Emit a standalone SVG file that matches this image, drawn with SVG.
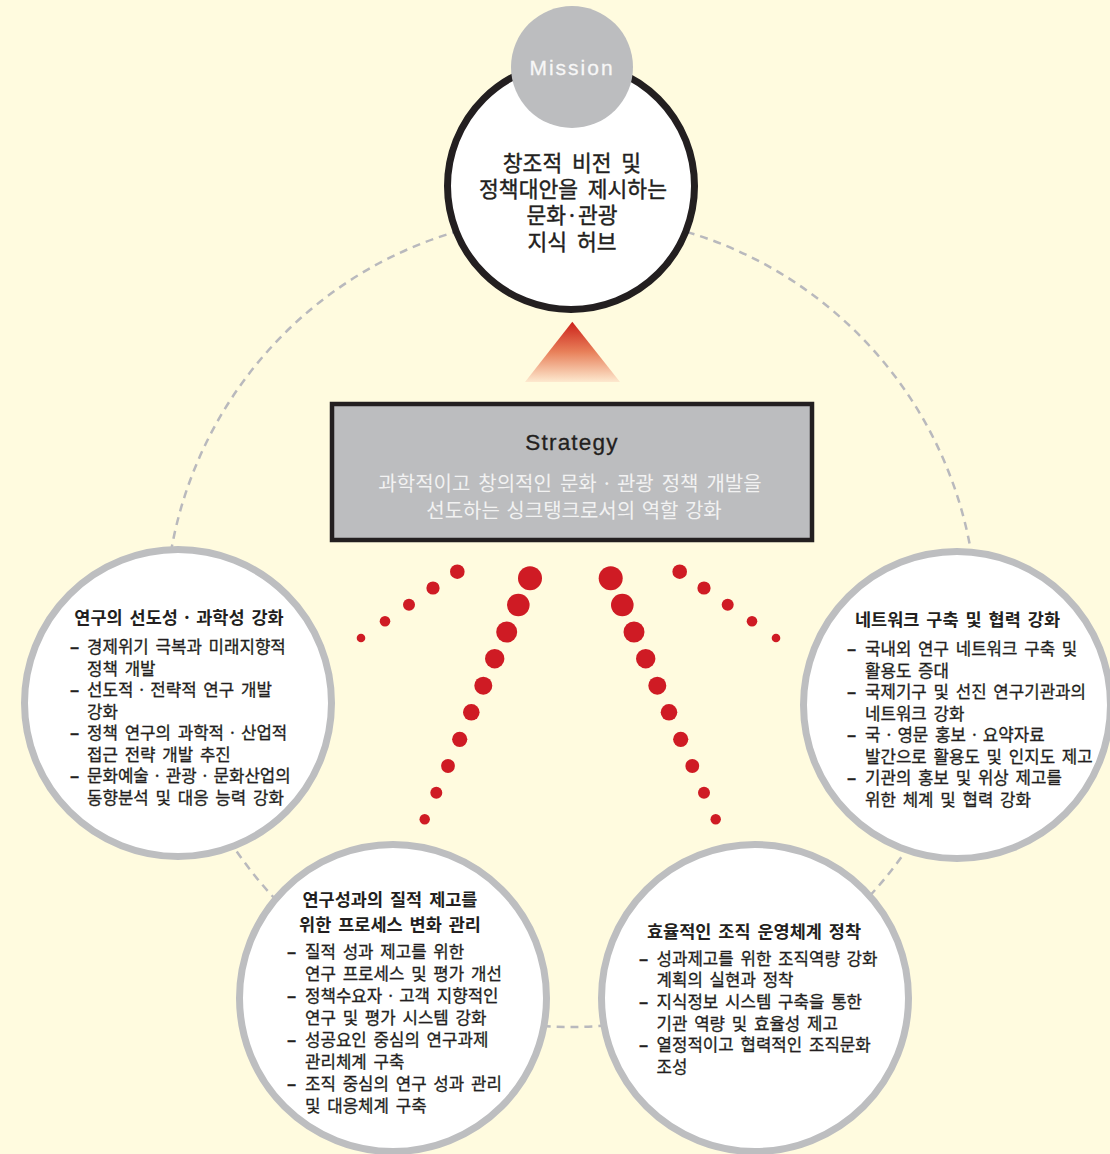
<svg xmlns="http://www.w3.org/2000/svg" width="1110" height="1154" viewBox="0 0 1110 1154">
<defs>
<linearGradient id="tri" x1="0" y1="0" x2="0" y2="1">
<stop offset="0" stop-color="#cc2119"/>
<stop offset="0.5" stop-color="#e8805a"/>
<stop offset="1" stop-color="#fde9cf"/>
</linearGradient>
<style>
.bg{fill:#fffbdf}
.dash{fill:none;stroke:#b9b9bd;stroke-width:2.5;stroke-dasharray:8 6}
.node{fill:#ffffff;stroke:#bdbec0;stroke-width:7}
.dot{fill:#cf1b24}
.kr{font-family:"Noto Sans CJK KR","Noto Sans",sans-serif;fill:#231f20}
.title{font-size:17.5px;font-weight:bold;word-spacing:3px}
.item{font-size:16.8px;word-spacing:3px;stroke:#231f20;stroke-width:0.3px}
.bul{font-weight:bold;stroke-width:0.6px}
.mis{font-size:21.5px;word-spacing:5px;text-anchor:middle;stroke:#231f20;stroke-width:0.4px}
.sep{word-spacing:0}
</style>
</defs>
<rect class="bg" x="0" y="0" width="1110" height="1154"/>

<g id="connectors">
<circle class="dash" cx="571" cy="621" r="406"/>
<g id="dots">
<circle class="dot" cx="457.3" cy="571.7" r="7.3"/>
<circle class="dot" cx="433" cy="588" r="6.6"/>
<circle class="dot" cx="409" cy="604.7" r="6"/>
<circle class="dot" cx="385" cy="621.3" r="5.3"/>
<circle class="dot" cx="361" cy="638" r="4.3"/>
<circle class="dot" cx="530" cy="578.3" r="12"/>
<circle class="dot" cx="518.3" cy="605" r="11.3"/>
<circle class="dot" cx="506.7" cy="632" r="10.5"/>
<circle class="dot" cx="494.7" cy="658.7" r="9.7"/>
<circle class="dot" cx="483.3" cy="685.7" r="9"/>
<circle class="dot" cx="471.3" cy="712.3" r="8.3"/>
<circle class="dot" cx="459.7" cy="739.3" r="7.6"/>
<circle class="dot" cx="448" cy="766" r="6.9"/>
<circle class="dot" cx="436.3" cy="792.7" r="6"/>
<circle class="dot" cx="424.7" cy="819.3" r="5.2"/>
<circle class="dot" cx="610.7" cy="578.3" r="12"/>
<circle class="dot" cx="622.3" cy="605" r="11.3"/>
<circle class="dot" cx="634" cy="632" r="10.5"/>
<circle class="dot" cx="645.7" cy="658.7" r="9.7"/>
<circle class="dot" cx="657.3" cy="685.7" r="9"/>
<circle class="dot" cx="669" cy="712.3" r="8.3"/>
<circle class="dot" cx="680.7" cy="739.3" r="7.6"/>
<circle class="dot" cx="692.3" cy="766" r="6.9"/>
<circle class="dot" cx="704" cy="792.7" r="6"/>
<circle class="dot" cx="715.7" cy="819.3" r="5.2"/>
<circle class="dot" cx="679.7" cy="571.7" r="7.3"/>
<circle class="dot" cx="704" cy="588" r="6.6"/>
<circle class="dot" cx="727.7" cy="604.7" r="6"/>
<circle class="dot" cx="752" cy="621.3" r="5.3"/>
<circle class="dot" cx="776" cy="638" r="4.3"/>
</g>
<polygon points="572.3,321.7 525,382 620,382" fill="url(#tri)"/>
</g>

<g id="mission">
<circle cx="571" cy="186" r="123.5" fill="#ffffff" stroke="#231f20" stroke-width="7"/>
<circle cx="572" cy="67" r="61" fill="#bcbdbf"/>
<text x="572" y="74.5" font-family="Liberation Sans, Arial, sans-serif" font-size="21" letter-spacing="2" fill="#f7f7f7" stroke="#f7f7f7" stroke-width="0.3" text-anchor="middle">Mission</text>
<text class="kr mis" x="572" y="170.5">창조적 비전 및</text>
<text class="kr mis" x="573" y="197">정책대안을 제시하는</text>
<text class="kr mis" x="572" y="223">문화·관광</text>
<text class="kr mis" x="572" y="249.5">지식 허브</text>
</g>

<g id="strategy">
<rect x="332" y="404" width="480" height="136" fill="#bcbdbf" stroke="#231f20" stroke-width="4.5"/>
<text x="572" y="449.5" font-family="Liberation Sans, Arial, sans-serif" font-size="22.5" letter-spacing="1.2" fill="#231f20" stroke="#231f20" stroke-width="0.3" text-anchor="middle">Strategy</text>
<text x="570" y="491" font-family="Noto Sans CJK KR, sans-serif" font-size="20" word-spacing="3.5" fill="#f2f2f2" text-anchor="middle">과학적이고 창의적인 문화<tspan class="sep"> · </tspan>관광 정책 개발을</text>
<text x="574" y="518" font-family="Noto Sans CJK KR, sans-serif" font-size="20" word-spacing="2" fill="#f2f2f2" text-anchor="middle">선도하는 싱크탱크로서의 역할 강화</text>
</g>

<g id="node-left">
<circle class="node" cx="178" cy="703" r="153.5"/>
<text class="kr title" x="179" y="624" text-anchor="middle">연구의 선도성<tspan class="sep"> · </tspan>과학성 강화</text>
<g class="kr item">
<text class="bul" x="70" y="653">–</text><text x="87" y="653">경제위기 극복과 미래지향적</text>
<text x="87" y="674.5">정책 개발</text>
<text class="bul" x="70" y="696">–</text><text x="87" y="696">선도적<tspan class="sep"> · </tspan>전략적 연구 개발</text>
<text x="87" y="717.5">강화</text>
<text class="bul" x="70" y="739">–</text><text x="87" y="739">정책 연구의 과학적<tspan class="sep"> · </tspan>산업적</text>
<text x="87" y="760.5">접근 전략 개발 추진</text>
<text class="bul" x="70" y="782">–</text><text x="87" y="782">문화예술<tspan class="sep"> · </tspan>관광<tspan class="sep"> · </tspan>문화산업의</text>
<text x="87" y="803.5">동향분석 및 대응 능력 강화</text>
</g>
</g>

<g id="node-right">
<circle class="node" cx="957" cy="705" r="153.5"/>
<text class="kr title" x="957.5" y="626" text-anchor="middle">네트워크 구축 및 협력 강화</text>
<g class="kr item">
<text class="bul" x="847" y="655">–</text><text x="865" y="655">국내외 연구 네트워크 구축 및</text>
<text x="865" y="676.5">활용도 증대</text>
<text class="bul" x="847" y="698">–</text><text x="865" y="698">국제기구 및 선진 연구기관과의</text>
<text x="865" y="719.5">네트워크 강화</text>
<text class="bul" x="847" y="741">–</text><text x="865" y="741">국<tspan class="sep"> · </tspan>영문 홍보<tspan class="sep"> · </tspan>요약자료</text>
<text x="865" y="762.5">발간으로 활용도 및 인지도 제고</text>
<text class="bul" x="847" y="784">–</text><text x="865" y="784">기관의 홍보 및 위상 제고를</text>
<text x="865" y="805.5">위한 체계 및 협력 강화</text>
</g>
</g>

<g id="node-bottom-left">
<circle class="node" cx="393" cy="998" r="153.5"/>
<text class="kr title" x="390" y="906" text-anchor="middle" word-spacing="5">연구성과의 질적 제고를</text>
<text class="kr title" x="390" y="930.5" text-anchor="middle">위한 프로세스 변화 관리</text>
<g class="kr item">
<text class="bul" x="287" y="958">–</text><text x="305" y="958">질적 성과 제고를 위한</text>
<text x="305" y="980">연구 프로세스 및 평가 개선</text>
<text class="bul" x="287" y="1002">–</text><text x="305" y="1002">정책수요자<tspan class="sep"> · </tspan>고객 지향적인</text>
<text x="305" y="1024">연구 및 평가 시스템 강화</text>
<text class="bul" x="287" y="1046">–</text><text x="305" y="1046">성공요인 중심의 연구과제</text>
<text x="305" y="1068">관리체계 구축</text>
<text class="bul" x="287" y="1090">–</text><text x="305" y="1090">조직 중심의 연구 성과 관리</text>
<text x="305" y="1112">및 대응체계 구축</text>
</g>
</g>

<g id="node-bottom-right">
<circle class="node" cx="755" cy="998" r="153.5"/>
<text class="kr title" x="754" y="938" text-anchor="middle" word-spacing="4">효율적인 조직 운영체계 정착</text>
<g class="kr item">
<text class="bul" x="639" y="964.5">–</text><text x="656.5" y="964.5">성과제고를 위한 조직역량 강화</text>
<text x="656.5" y="986">계획의 실현과 정착</text>
<text class="bul" x="639" y="1008">–</text><text x="656.5" y="1008">지식정보 시스템 구축을 통한</text>
<text x="656.5" y="1029.5">기관 역량 및 효율성 제고</text>
<text class="bul" x="639" y="1051">–</text><text x="656.5" y="1051">열정적이고 협력적인 조직문화</text>
<text x="656.5" y="1073">조성</text>
</g>
</g>
</svg>
